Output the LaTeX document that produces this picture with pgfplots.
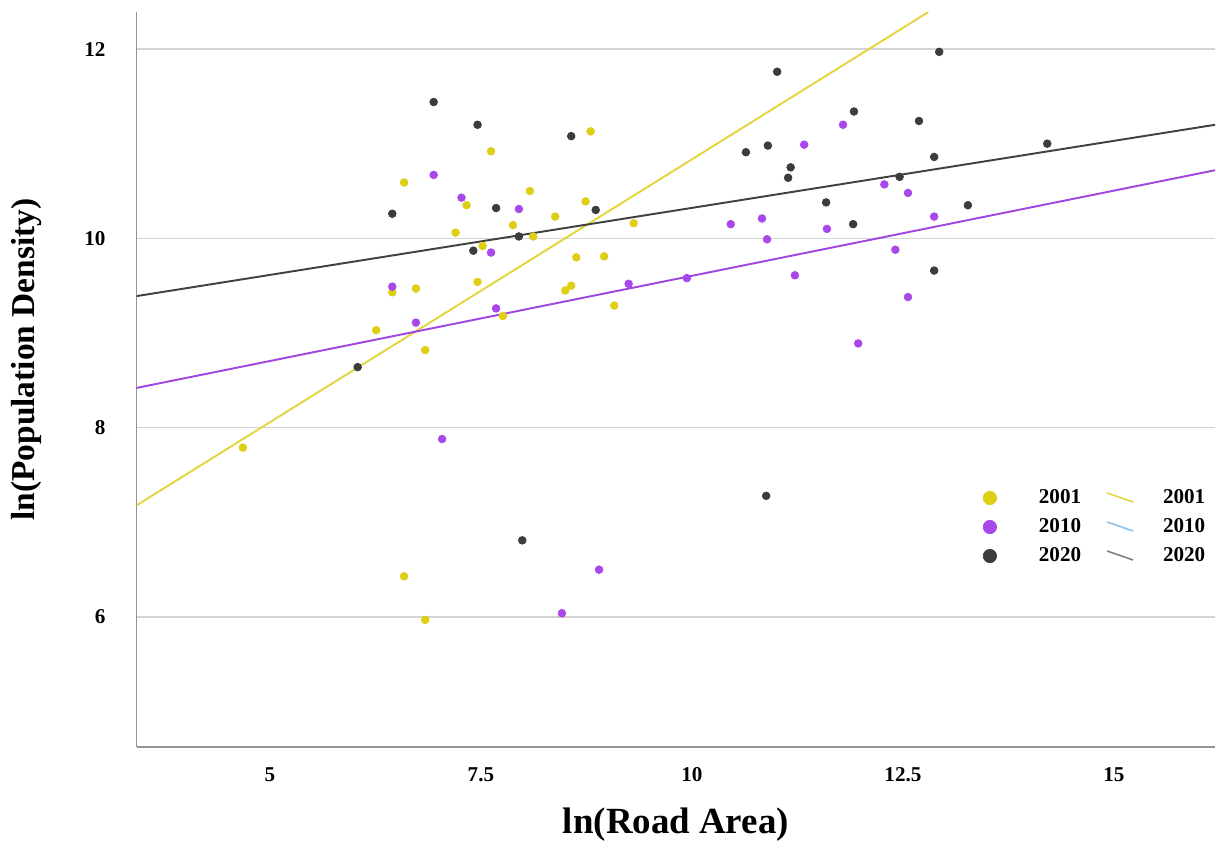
\documentclass[border=0pt]{standalone}
\usepackage{fontspec}
\setmainfont{Liberation Serif}
\usepackage{pgfplots}
\usepackage{pgfplotstable}
\pgfplotsset{compat=1.18}

\definecolor{yel}{RGB}{222,207,22}
\definecolor{pur}{RGB}{168,72,235}
\definecolor{blk}{RGB}{60,60,60}
\definecolor{yline}{RGB}{226,214,60}
\definecolor{pline}{RGB}{160,70,225}
\definecolor{bline}{RGB}{64,64,64}
\definecolor{lblue}{RGB}{140,195,235}
\definecolor{gridc}{RGB}{212,212,212}

\pgfplotsset{
  dotleg/.style={legend image code/.code={%
    \path[draw=none, fill=none] (0,-2.9mm) rectangle (11.4mm,2.9mm);
    \draw[##1] plot coordinates {(1.6mm,0mm)};}},
  lineleg/.style={legend image code/.code={%
    \path[draw=none, fill=none] (0,-2.9mm) rectangle (16.4mm,2.9mm);
    \draw[##1] (5.2mm,1mm) -- (10.4mm,-0.8mm);}},
}

% 2001
\pgfplotstableread{
x y
4.68 7.79
6.26 9.03
6.45 9.43
6.59 10.59
6.73 9.47
6.84 8.82
6.59 6.43
6.84 5.97
7.20 10.06
7.33 10.35
7.46 9.54
7.52 9.92
7.62 10.92
7.76 9.18
7.88 10.14
8.08 10.50
8.12 10.02
8.38 10.23
8.50 9.45
8.57 9.50
8.63 9.80
8.74 10.39
8.80 11.13
8.96 9.81
9.08 9.29
9.31 10.16
}\yrA

% 2010
\pgfplotstableread{
x y
6.45 9.49
6.94 10.67
6.73 9.11
7.04 7.88
7.27 10.43
7.62 9.85
7.68 9.26
7.95 10.31
8.46 6.04
8.90 6.50
9.25 9.52
9.94 9.58
10.46 10.15
10.83 10.21
10.89 9.99
11.22 9.61
11.33 10.99
11.60 10.10
11.79 11.20
11.97 8.89
12.28 10.57
12.41 9.88
12.56 10.48
12.56 9.38
12.87 10.23
}\yrB

% 2020
\pgfplotstableread{
x y
6.04 8.64
6.45 10.26
6.94 11.44
7.41 9.87
7.46 11.20
7.68 10.32
7.95 10.02
7.99 6.81
8.57 11.08
8.86 10.30
10.64 10.91
10.90 10.98
11.01 11.76
11.17 10.75
11.14 10.64
10.88 7.28
11.59 10.38
11.91 10.15
11.92 11.34
12.46 10.65
12.69 11.24
12.87 10.86
12.87 9.66
12.93 11.97
13.27 10.35
14.21 11.00
}\yrC

\begin{document}
\begin{tikzpicture}
\begin{axis}[
    scale only axis,
    width=215.7mm,
    height=146.9mm,
    xmin=3.42, xmax=16.2,
    ymin=4.63, ymax=12.39,
    axis x line=bottom,
    axis y line=left,
    axis line style={-, draw=gray!85, line width=0.9pt},
    xtick={5,7.5,10,12.5,15},
    ytick={6,8,10,12},
    major tick length=0pt,
    ymajorgrids=true,
    grid style={gridc, line width=0.7pt},
    /pgf/number format/assume math mode=true,
    every tick label/.append style={font=\bfseries\fontsize{12}{12}\selectfont},
    xticklabel style={yshift=-3mm},
    yticklabel style={xshift=-5mm},
    xlabel={ln(Road Area)},
    ylabel={ln(Population Density)},
    xlabel style={font=\bfseries\fontsize{21}{21}\selectfont, at={(axis description cs:0.5,-0.106)}, anchor=center},
    ylabel style={font=\bfseries\fontsize{19}{19}\selectfont, at={(axis description cs:-0.102,0.527)}, anchor=center},
    legend columns=2,
    legend style={draw=none, fill=none, inner sep=0pt, outer sep=0pt,
        row sep=0pt, column sep=0pt,
        at={(rel axis cs:0.7837,0.3583)}, anchor=north west,
        font=\bfseries\fontsize{12}{12}\selectfont,
        nodes={inner sep=0pt}},
    legend cell align=left,
]
% fit lines
\addplot[yline, line width=1.1pt, forget plot] coordinates {(3.42,7.18) (12.80,12.39)};
\addplot[pline, line width=1.1pt, forget plot] coordinates {(3.42,8.42) (16.2,10.72)};
\addplot[bline, line width=1.1pt, forget plot] coordinates {(3.42,9.39) (16.2,11.20)};
% points
\addplot[only marks, mark=*, mark size=2.2pt, mark options={draw=yel, fill=yel}, forget plot] table {\yrA};
\addplot[only marks, mark=*, mark size=2.2pt, mark options={draw=pur, fill=pur}, forget plot] table {\yrB};
\addplot[only marks, mark=*, mark size=2.2pt, mark options={draw=blk, fill=blk}, forget plot] table {\yrC};
% legend
\addlegendimage{only marks, mark=*, mark size=3.8pt, color=yel, dotleg}
\addlegendentry{2001}
\addlegendimage{yline, line width=0.9pt, lineleg}
\addlegendentry{2001}
\addlegendimage{only marks, mark=*, mark size=3.8pt, color=pur, dotleg}
\addlegendentry{2010}
\addlegendimage{lblue, line width=0.9pt, lineleg}
\addlegendentry{2010}
\addlegendimage{only marks, mark=*, mark size=3.8pt, color=blk, dotleg}
\addlegendentry{2020}
\addlegendimage{gray, line width=0.9pt, lineleg}
\addlegendentry{2020}
\coordinate (bbl) at (rel axis cs:-0.1266,-0.1393);
\coordinate (btr) at (rel axis cs:1.0007,1.0165);
\end{axis}
\path (bbl) rectangle (btr);
\end{tikzpicture}
\end{document}
